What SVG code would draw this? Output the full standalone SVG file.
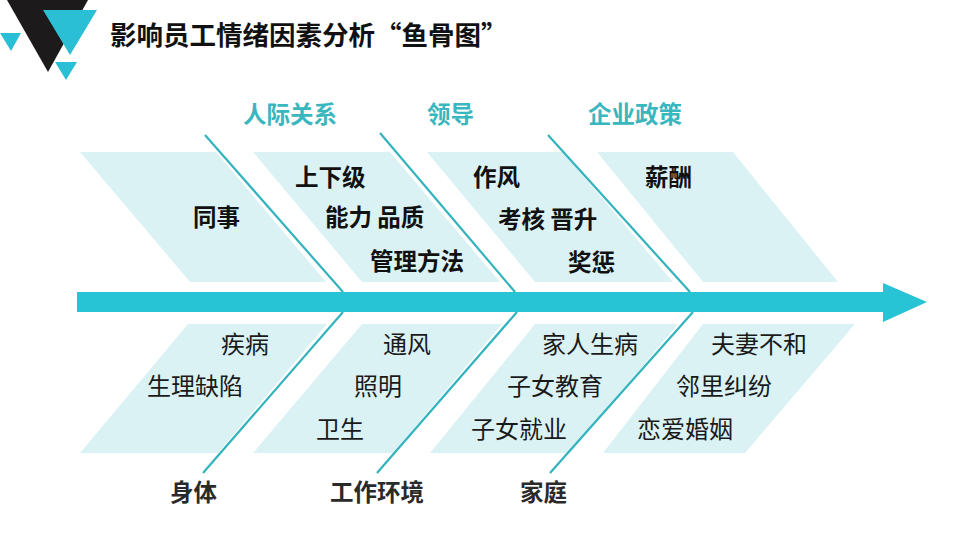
<svg xmlns="http://www.w3.org/2000/svg" width="960" height="540" viewBox="0 0 960 540">
<style>
.bg{fill:#ffffff}
.band{fill:#dbf2f4}
.bone{stroke:#33b3bd;stroke-width:2.2;fill:none}
.cat{font-family:"Noto Sans CJK SC",sans-serif;font-weight:700;font-size:23.5px;fill:#3ab6bf}
.top{font-family:"Noto Sans CJK SC",sans-serif;font-weight:700;font-size:23.5px;fill:#111}
.bot{font-family:"Noto Sans CJK SC",sans-serif;font-weight:400;font-size:24px;fill:#1a1a1a}
.lab{font-family:"Noto Sans CJK SC",sans-serif;font-weight:700;font-size:23.5px;fill:#2a2a2a}
.title{font-family:"Noto Sans CJK SC",sans-serif;font-weight:700;font-size:26.5px;fill:#111}
.cy{fill:#2bbfd5}
</style>
<rect class="bg" x="0" y="0" width="960" height="540"/>
<g id="logo">
<polygon points="7,0 88,0 48,72" fill="#1c1a1a"/>
<polygon class="cy" points="43,10 97,10 70,55"/>
<polygon class="cy" points="0,33 21,33 11,51"/>
<polygon class="cy" points="55,62 77,62 66,80"/>
</g>
<text class="title" x="110" y="45">影响员工情绪因素分析“鱼骨图”</text>
<g id="bands">
<polygon class="band" points="80,152 216,152 326,282 190,282"/>
<polygon class="band" points="253,152 390,152 500,282 362,282"/>
<polygon class="band" points="427,152 563,152 673,282 535,282"/>
<polygon class="band" points="597,152 733,152 838,282 703,282"/>
<polygon class="band" points="188,324 327,324 218,453 80,453"/>
<polygon class="band" points="362,324 502,324 393,453 253,453"/>
<polygon class="band" points="535,324 678,324 570,453 430,453"/>
<polygon class="band" points="703,324 855,324 745,453 603,453"/>
</g>
<g id="connectors">
<polygon id="spine" points="77,292 883,292 883,283 927,302 883,322 883,312 77,312" fill="#27c4d6"/>
<line class="bone" x1="205" y1="135" x2="343" y2="292"/>
<line class="bone" x1="380" y1="133" x2="515" y2="292"/>
<line class="bone" x1="548" y1="135" x2="690" y2="292"/>
<line class="bone" x1="343" y1="312" x2="203" y2="473"/>
<line class="bone" x1="517" y1="312" x2="377" y2="473"/>
<line class="bone" x1="693" y1="312" x2="550" y2="473"/>
</g>
<g id="node-renji">
<text class="cat" x="243" y="123">人际关系</text>
<text class="top" x="193" y="226">同事</text>
<text class="top" x="295" y="186">上下级</text>
<text class="top" x="325" y="226">能力 品质</text>
<text class="top" x="370" y="270">管理方法</text>
</g>
<g id="node-lingdao">
<text class="cat" x="427" y="123">领导</text>
<text class="top" x="473" y="186">作风</text>
<text class="top" x="498" y="228">考核 晋升</text>
<text class="top" x="568" y="271">奖惩</text>
</g>
<g id="node-qiye">
<text class="cat" x="588" y="123">企业政策</text>
<text class="top" x="645" y="186">薪酬</text>
</g>
<g id="node-shenti">
<text class="bot" x="221" y="353">疾病</text>
<text class="bot" x="147" y="395">生理缺陷</text>
<text class="lab" x="170" y="501">身体</text>
</g>
<g id="node-huanjing">
<text class="bot" x="383" y="353">通风</text>
<text class="bot" x="354" y="395">照明</text>
<text class="bot" x="316" y="438">卫生</text>
<text class="lab" x="330" y="501">工作环境</text>
</g>
<g id="node-jiating">
<text class="bot" x="542" y="353">家人生病</text>
<text class="bot" x="507" y="395">子女教育</text>
<text class="bot" x="471" y="438">子女就业</text>
<text class="lab" x="520" y="501">家庭</text>
</g>
<g id="node-other">
<text class="bot" x="711" y="353">夫妻不和</text>
<text class="bot" x="676" y="395">邻里纠纷</text>
<text class="bot" x="637" y="438">恋爱婚姻</text>
</g>
</svg>
